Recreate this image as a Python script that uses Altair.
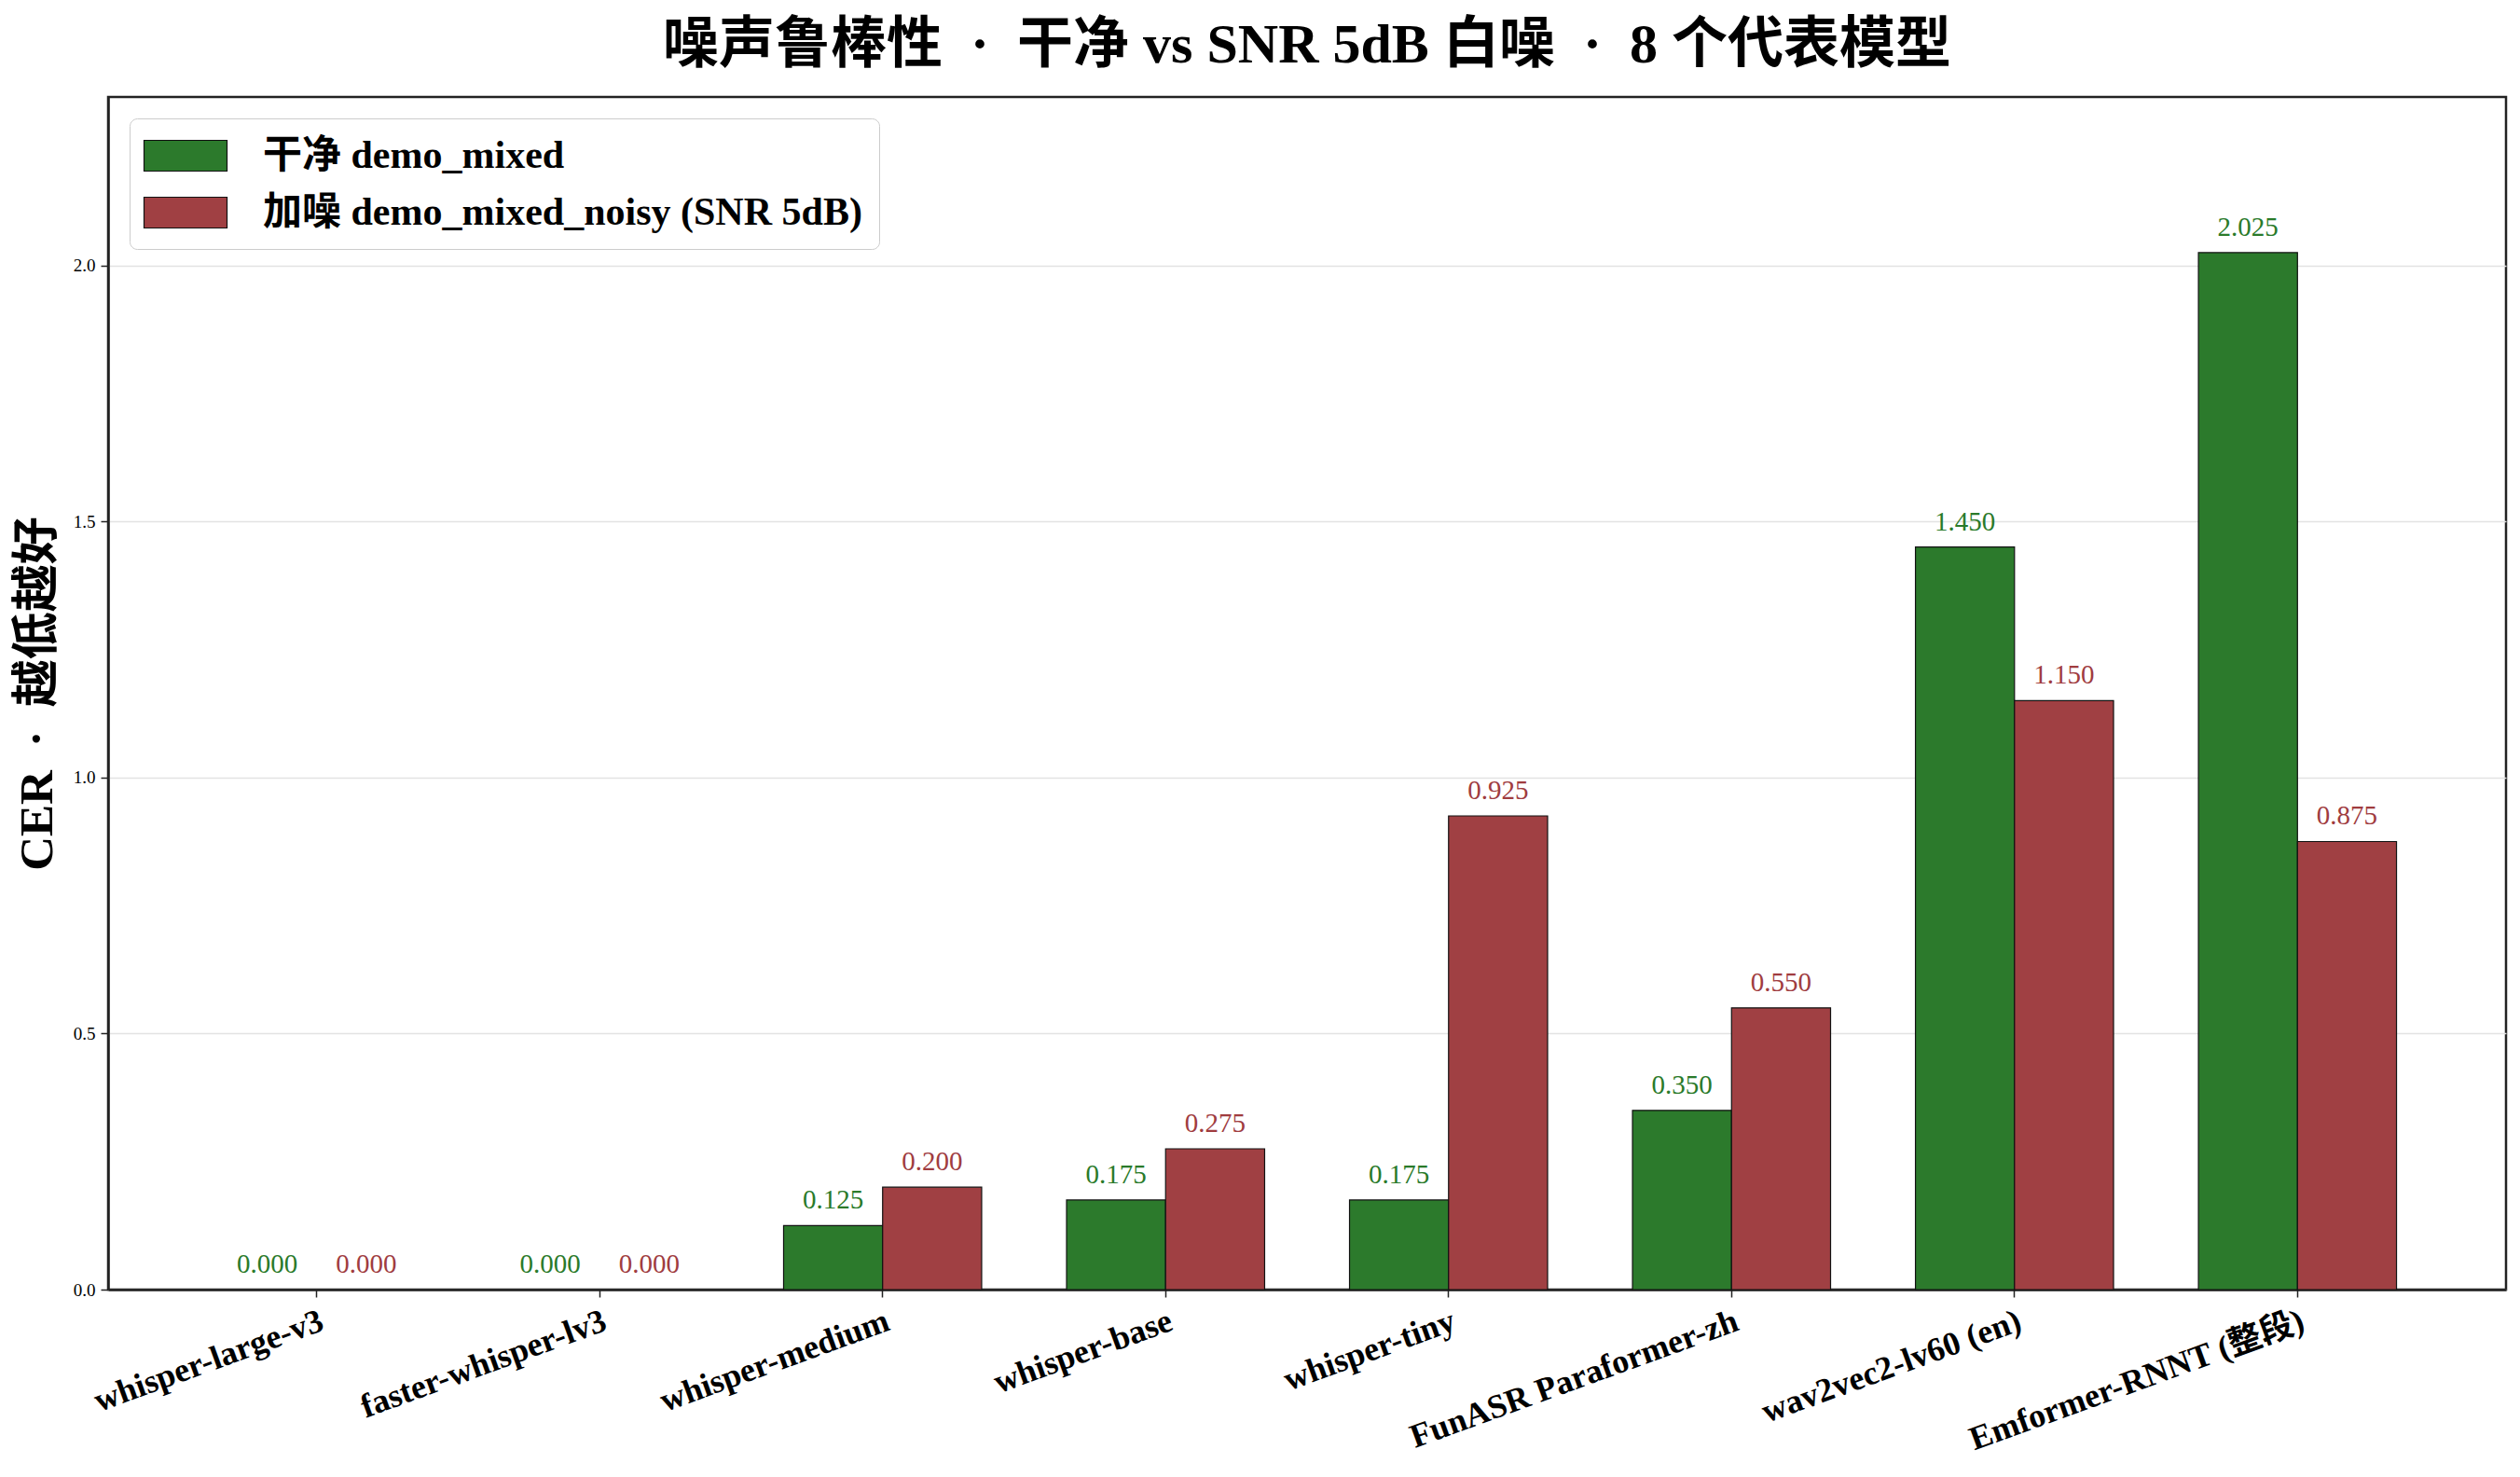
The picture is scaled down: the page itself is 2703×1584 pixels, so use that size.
import altair as alt
import pandas as pd

models = ["whisper-large-v3", "faster-whisper-lv3", "whisper-medium", "whisper-base",
          "whisper-tiny", "FunASR Paraformer-zh", "wav2vec2-lv60 (en)", "Emformer-RNNT (整段)"]
clean = [0.000, 0.000, 0.125, 0.175, 0.175, 0.350, 1.450, 2.025]
noisy = [0.000, 0.000, 0.200, 0.275, 0.925, 0.550, 1.150, 0.875]
series_names = ["干净 demo_mixed", "加噪 demo_mixed_noisy (SNR 5dB)"]
series_colors = ["#2c7a2c", "#a04043"]
text_colors = ["#2a7a2a", "#a03c3f"]
y_ticks = [0.0, 0.5, 1.0, 1.5, 2.0]
title_text = "噪声鲁棒性\u2002·\u2002干净 vs SNR 5dB 白噪\u2002·\u20028 个代表模型"
y_title = "CER\u2002·\u2002越低越好"

rows = []
for m, c, n in zip(models, clean, noisy):
    rows.append({"model": m, "series": series_names[0], "value": c})
    rows.append({"model": m, "series": series_names[1], "value": n})
df = pd.DataFrame(rows)

FONT = "Liberation Serif, Noto Sans CJK SC, serif"

x_enc = alt.X("model:N", sort=models, title=None,
              scale=alt.Scale(paddingInner=0.3, paddingOuter=0.387),
              axis=alt.Axis(labelAngle=-20, labelAlign="right", labelBaseline="top",
                            labelFont=FONT, labelFontSize=36, labelFontWeight="bold",
                            labelColor="black", labelPadding=8, tickSize=8,
                            tickColor="#222", tickWidth=1.5, domainColor="#222",
                            domainWidth=2.5, grid=False, labelOverlap=False,
                            labelLimit=600))
xoff = alt.XOffset("series:N", sort=series_names,
                   scale=alt.Scale(paddingInner=0, paddingOuter=0))
y_enc = alt.Y("value:Q", title=y_title,
              scale=alt.Scale(domain=[0, 2.329], nice=False, zero=True),
              axis=alt.Axis(values=y_ticks, format=".1f", labelFont=FONT, labelFontSize=19,
                            labelColor="black", tickSize=8, tickColor="#222", tickWidth=1.5,
                            labelPadding=6, domainColor="#222", domainWidth=2.5,
                            grid=True, gridColor="#e3e3e3", gridWidth=1.5,
                            titleFont=FONT, titleFontSize=51, titleFontWeight="bold",
                            titleColor="black", titlePadding=12))

bars = alt.Chart(df).transform_filter("datum.value > 0").mark_bar(
    stroke="#111", strokeWidth=1.2).encode(
    x=x_enc, xOffset=xoff, y=y_enc,
    color=alt.Color("series:N", sort=series_names,
                    scale=alt.Scale(domain=series_names, range=series_colors),
                    legend=alt.Legend(title=None, orient="top-left", offset=23,
                                      labelFont=FONT, labelFontSize=42,
                                      labelFontWeight="bold", labelColor="black",
                                      symbolType="M-2.12,-0.786H2.12V0.786H-2.12Z",
                                      symbolSize=1764, symbolOffset=20,
                                      symbolStrokeColor="#111", symbolStrokeWidth=1.2,
                                      symbolOpacity=1, labelOffset=61, padding=18,
                                      rowPadding=18, strokeColor="#cccccc",
                                      fillColor="white", cornerRadius=8,
                                      labelLimit=1000)),
)

labels = alt.Chart(df).mark_text(font=FONT, fontSize=29, dy=-18, baseline="alphabetic",
                                 align="center").encode(
    x=alt.X("model:N", sort=models), xOffset=xoff,
    y=alt.Y("value:Q"),
    text=alt.Text("value:Q", format=".3f"),
    fill=alt.Fill("series:N", sort=series_names,
                  scale=alt.Scale(domain=series_names, range=text_colors), legend=None),
)

chart = (bars + labels).properties(
    width=2572, height=1279,
    background="white",
    autosize=alt.AutoSizeParams(type="none"),
    padding={"left": 108, "top": 96, "right": 6, "bottom": 186},
    title=alt.TitleParams(title_text,
                          font=FONT, fontSize=60, fontWeight="bold", color="black",
                          anchor="middle", offset=24),
).configure_view(stroke="#222", strokeWidth=2.5)

chart.save("out.html", embed_options={"renderer": "svg", "actions": False})
